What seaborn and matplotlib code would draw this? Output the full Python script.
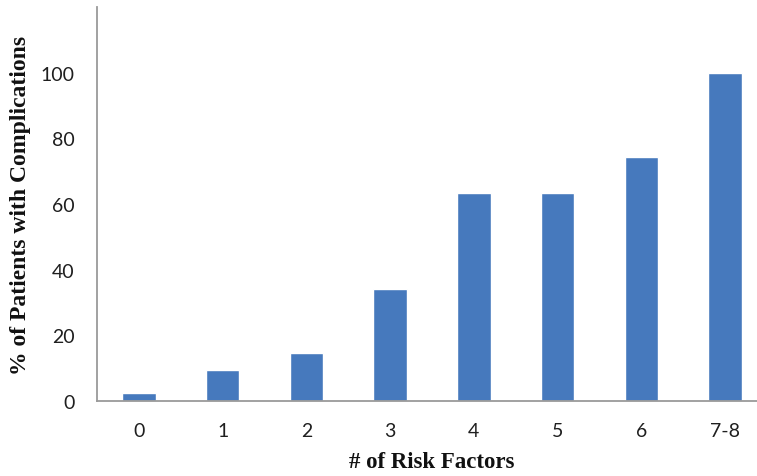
import matplotlib
matplotlib.use("Agg")
import matplotlib.pyplot as plt
import seaborn as sns
import pandas as pd

categories = ["0", "1", "2", "3", "4", "5", "6", "7-8"]
values = [2.3, 9.3, 14.7, 34.0, 63.5, 63.5, 74.3, 100.0]
yticks = [0, 20, 40, 60, 80, 100]

df = pd.DataFrame({"cat": categories, "val": values})

sns.set_theme(style="white")
fig = plt.figure(figsize=(7.57, 4.77), dpi=100)
ax = fig.add_axes([97 / 757, 75 / 477, 670 / 757, 394 / 477])
sns.barplot(data=df, x="cat", y="val", color="#4679BD", saturation=1, width=0.4, ax=ax)

ax.set_ylim(0, 120)
ax.set_yticks(yticks)
ax.set_xlim(-0.5, 7.5)
for s in ["top", "right"]:
    ax.spines[s].set_visible(False)
for s in ["left", "bottom"]:
    ax.spines[s].set_color("#9a9a9a")
    ax.spines[s].set_linewidth(1.3)
ax.tick_params(axis="both", length=0, labelsize=14, colors="#1f1f1f")
ax.tick_params(axis="y", pad=16)
ax.tick_params(axis="x", pad=15)
for lab in ax.get_xticklabels() + ax.get_yticklabels():
    lab.set_family("Lato")
ax.set_xlabel("# of Risk Factors", family="Liberation Serif", fontweight="bold",
              fontsize=16.5, labelpad=9, color="#111111")
ax.set_ylabel("% of Patients with Complications", family="Liberation Serif",
              fontweight="bold", fontsize=17, labelpad=7, color="#111111")

fig.savefig("out.png", dpi=100)
